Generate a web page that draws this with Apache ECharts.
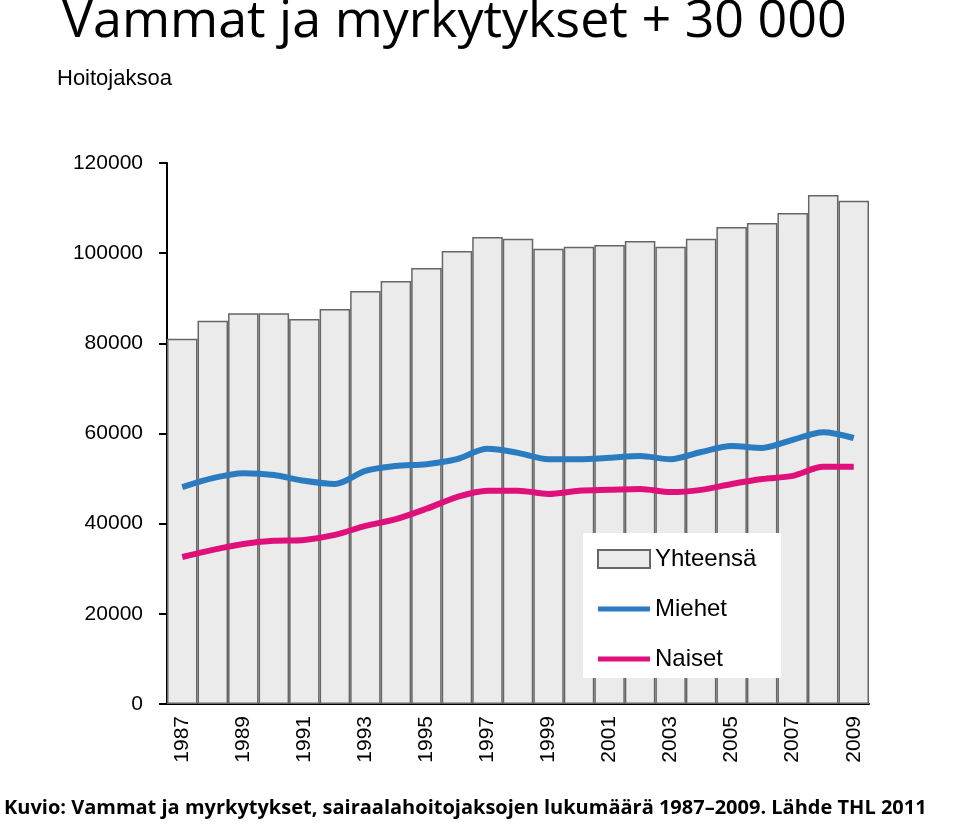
<!DOCTYPE html>
<html><head><meta charset="utf-8">
<script src="https://cdn.jsdelivr.net/npm/echarts@6/dist/echarts.min.js"></script>
<style>body{margin:0;background:#fff}#c{width:960px;height:826px}</style>
</head><body><div id="c"></div>
<script>
const years=['1987','1988','1989','1990','1991','1992','1993','1994','1995','1996','1997','1998','1999','2000','2001','2002','2003','2004','2005','2006','2007','2008','2009'];
const yhteensa=[81000,85000,86700,86700,85400,87600,91600,93800,96700,100500,103600,103200,101000,101400,101800,102700,101400,103200,105800,106700,108900,112900,111600];
const miehet=[48100,50100,51200,50800,49500,48800,51700,52800,53200,54300,56600,55700,54300,54300,54600,55000,54300,55900,57200,56800,58600,60300,59000];
const naiset=[32600,34200,35500,36200,36400,37500,39500,41000,43300,45900,47300,47300,46600,47300,47500,47700,47000,47500,48800,49900,50600,52600,52600];
const ch=echarts.init(document.getElementById('c'));
const F='Liberation Sans';
const lineIcon='path://M0,0H52V5H0Z';
ch.setOption({
 animation:false,
 graphic:[
  {type:'text',left:62,top:-4,style:{text:'Vammat ja myrkytykset + 30 000',font:'52px "Open Sans", sans-serif',fill:'#000'}},
  {type:'text',left:57,top:68,style:{text:'Hoitojaksoa',font:'22px "Liberation Sans"',fill:'#000'}},
  {type:'text',left:4,top:798,style:{text:'Kuvio: Vammat ja myrkytykset, sairaalahoitojaksojen lukumäärä 1987–2009. Lähde THL 2011',font:'bold 20px "Open Sans", sans-serif',fill:'#000'}},
  {type:'rect',shape:{x:583,y:533,width:198,height:145},style:{fill:'#fff'},z:50}
 ],
 grid:{left:167,right:91,top:163,bottom:122},
 legend:{orient:'vertical',left:592,top:542,itemGap:26,itemWidth:52,itemHeight:18,z:60,
  textStyle:{fontFamily:F,fontSize:24,color:'#000'},
  data:[{name:'Yhteensä',icon:'rect'},{name:'Miehet',icon:lineIcon,itemStyle:{color:'#2b7bc0'}},{name:'Naiset',icon:lineIcon,itemStyle:{color:'#e0107a'}}]},
 xAxis:{type:'category',data:years,boundaryGap:true,
  axisLine:{lineStyle:{color:'#000',width:2}},
  axisTick:{length:10,lineStyle:{color:'#000',width:2},interval:0},
  axisLabel:{rotate:90,interval:1,fontFamily:F,fontSize:21,color:'#000',margin:12}},
 yAxis:{type:'value',min:0,max:120000,interval:20000,
  axisLine:{show:true,lineStyle:{color:'#000',width:2}},
  axisTick:{show:true,length:8,lineStyle:{color:'#000',width:2}},
  splitLine:{show:false},
  axisLabel:{fontFamily:F,fontSize:21,color:'#000',margin:24,formatter:v=>String(v)}},
 series:[
  {name:'Yhteensä',type:'bar',data:yhteensa,barCategoryGap:'0%',
   itemStyle:{color:'#ebebeb',borderColor:'#666',borderWidth:1.5}},
  {name:'Miehet',type:'line',data:miehet,symbol:'none',smooth:0.3,
   lineStyle:{color:'#2b7bc0',width:6},itemStyle:{color:'#2b7bc0'}},
  {name:'Naiset',type:'line',data:naiset,symbol:'none',smooth:0.3,
   lineStyle:{color:'#e0107a',width:6},itemStyle:{color:'#e0107a'}}
 ]
});
</script></body></html>
